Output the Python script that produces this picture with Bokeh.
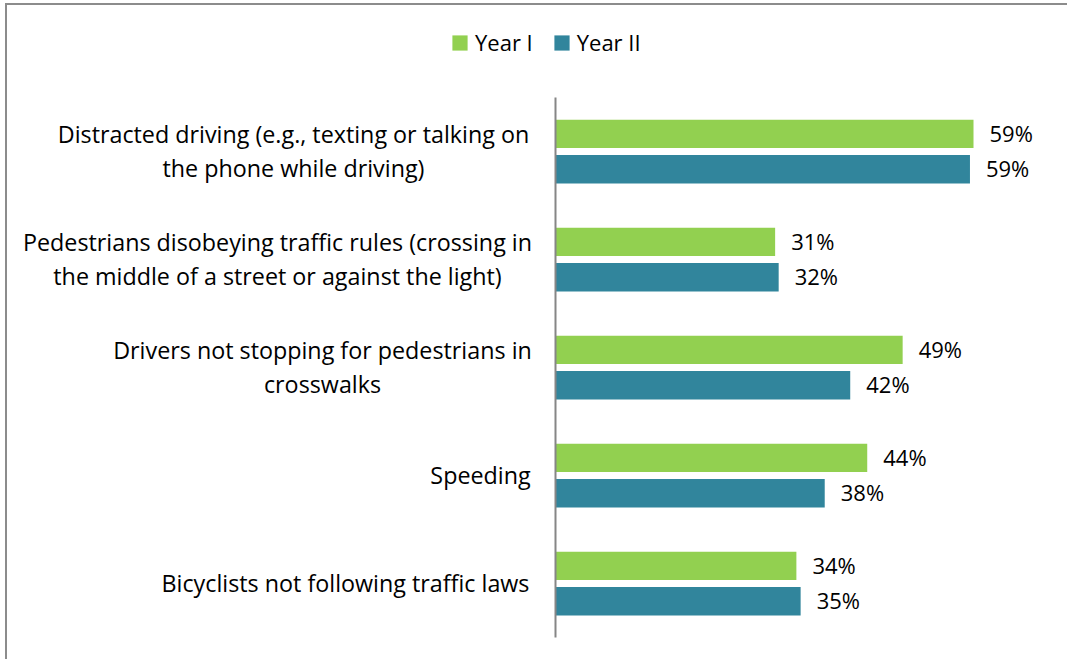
from bokeh.plotting import figure
from bokeh.models import ColumnDataSource, Range1d, LabelSet, Legend, LegendItem
from bokeh.core.properties import value
from bokeh.embed import file_html
from bokeh.resources import INLINE

# ---- data ----
categories = [
    "Distracted driving (e.g., texting or talking on\nthe phone while driving)",
    "Pedestrians disobeying traffic rules (crossing in\nthe middle of a street or against the light)",
    "Drivers not stopping for pedestrians in\ncrosswalks",
    "Speeding",
    "Bicyclists not following traffic laws",
]
year1 = [59.0, 31.0, 49.0, 44.0, 34.0]
year2 = [58.5, 31.5, 41.6, 38.0, 34.6]
year1_labels = ["59%", "31%", "49%", "44%", "34%"]
year2_labels = ["59%", "32%", "42%", "38%", "35%"]
series_names = ["Year I", "Year II"]

# ---- layout / style (not data) ----
FONT = "Open Sans"
CAT_FS = "23.3px"
FS = "22px"
GREEN = "#92D050"
TEAL = "#31859C"
label_block_center = [262, 278, 233, 75, 210]   # px left of the axis line
LINE_STEP = 34
DODGE = 0.164
BAR_H = 0.262

n = len(categories)
ypos = [n - 1 - i for i in range(n)]            # first category on top

src = ColumnDataSource(dict(
    y=ypos, y1=year1, y2=year2, l1=year1_labels, l2=year2_labels,
    yg=[v + DODGE for v in ypos], yt=[v - DODGE for v in ypos],
))

rows = dict(y=[], txt=[], xo=[], yo=[])
for cat, yy, c in zip(categories, ypos, label_block_center):
    lines = cat.split("\n")
    k = len(lines)
    for j, ln in enumerate(lines):
        rows["y"].append(yy)
        rows["txt"].append(ln)
        rows["xo"].append(-c)
        rows["yo"].append(-(j - (k - 1) / 2) * LINE_STEP + 1)
rows["x0"] = [0] * len(rows["y"])
lab_src = ColumnDataSource(rows)

W, H = 1062, 656
p = figure(
    width=W, height=H,
    x_range=Range1d(-77.35, 72.55),
    y_range=Range1d(-0.722, 5.352),
    x_axis_location=None, y_axis_location=None,
    output_backend="svg", toolbar_location=None,
    min_border=0,
)
p.styles = {"margin-left": "5px", "margin-top": "3px",
            "border-left": "2px solid #8c8c8c", "border-top": "2px solid #8c8c8c"}
p.outline_line_color = None
p.xgrid.visible = False
p.ygrid.visible = False

r1 = p.hbar(y="yg", left=0, right="y1", height=BAR_H, source=src, fill_color=GREEN, line_color=None)
r2 = p.hbar(y="yt", left=0, right="y2", height=BAR_H, source=src, fill_color=TEAL, line_color=None)

# category axis line
p.segment(x0=[0], y0=[-0.5], x1=[0], y1=[n - 0.5], line_color="#868686", line_width=2)

for ycol, lcol, yc in (("y1", "l1", "yg"), ("y2", "l2", "yt")):
    p.add_layout(LabelSet(x=ycol, y=yc, text=lcol, source=src,
                          x_offset=16, y_offset=1, text_baseline="middle", text_align="left",
                          text_font=value(FONT), text_font_size=FS, text_color="#000000"))

p.add_layout(LabelSet(x="x0", y="y", text="txt", x_offset="xo", y_offset="yo", source=lab_src,
                      text_align="center", text_baseline="middle",
                      text_font=value(FONT), text_font_size=CAT_FS, text_color="#000000"))

legend = Legend(items=[LegendItem(label=series_names[0], renderers=[r1]),
                       LegendItem(label=series_names[1], renderers=[r2])],
                orientation="horizontal", location=(443, 604),
                glyph_width=19, glyph_height=19, label_standoff=6, spacing=19,
                padding=0, margin=0, border_line_color=None, background_fill_alpha=0,
                label_text_font=FONT, label_text_font_size=FS, label_text_color="#000000")
p.add_layout(legend, "center")

open("out.html", "w").write(file_html(p, INLINE))
